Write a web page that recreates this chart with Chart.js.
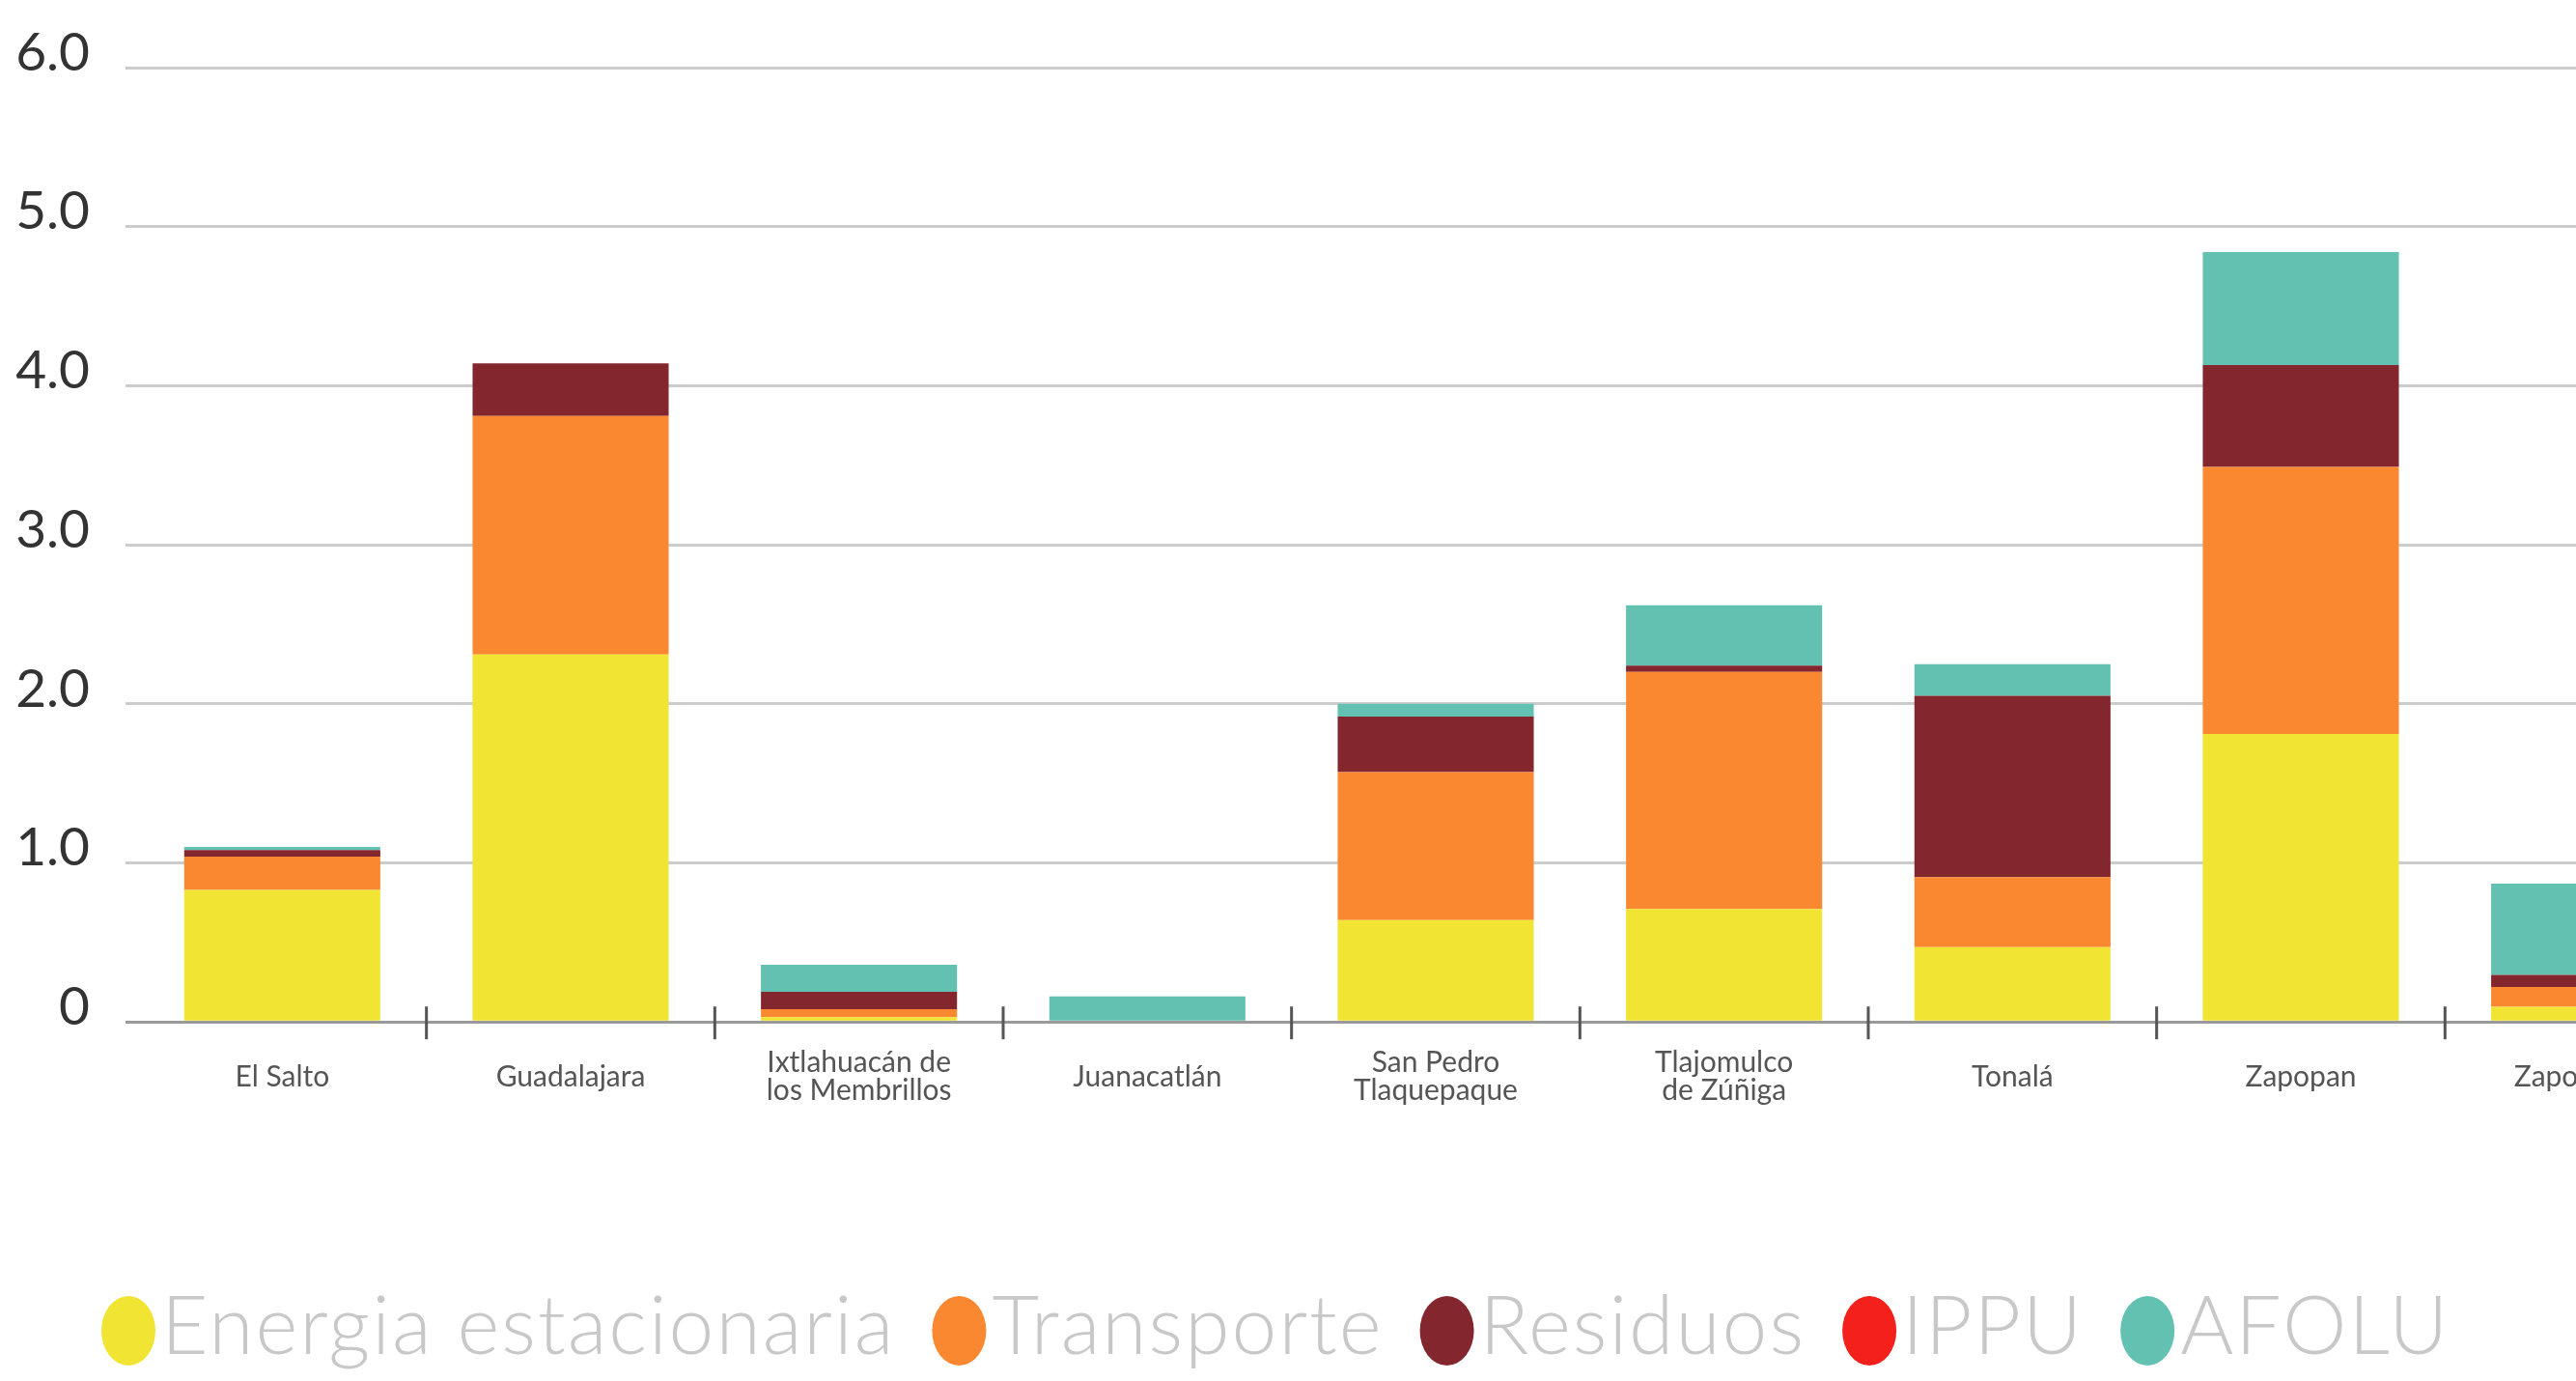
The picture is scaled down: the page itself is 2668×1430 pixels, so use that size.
<!DOCTYPE html>
<html lang="es">
<head>
<meta charset="utf-8">
<title>Emisiones por municipio</title>
<script src="https://cdn.jsdelivr.net/npm/chart.js@4.4.1/dist/chart.umd.min.js"></script>
<style>
    html, body { margin: 0; padding: 0; background: #ffffff; overflow: hidden; }
    #wrap { width: 2840px; height: 1430px; }
</style>
</head>
<body>
<div id="wrap"><canvas id="emisionesChart"></canvas></div>
<script>
const categories = [
    "El Salto",
    "Guadalajara",
    ["Ixtlahuacán de", "los Membrillos"],
    "Juanacatlán",
    ["San Pedro", "Tlaquepaque"],
    ["Tlajomulco", "de Zúñiga"],
    "Tonalá",
    "Zapopan",
    "Zapotlanejo"
];

const energia    = [0.83, 2.31, 0.03, 0,    0.64, 0.71, 0.47, 1.81, 0.095];
const transporte = [0.21, 1.50, 0.05, 0,    0.93, 1.49, 0.44, 1.68, 0.125];
const residuos   = [0.04, 0.33, 0.11, 0,    0.35, 0.04, 1.14, 0.64, 0.075];
const ippu       = [0,    0,    0,    0,    0,    0,    0,    0,    0];
const afolu      = [0.02, 0,    0.17, 0.16, 0.08, 0.38, 0.20, 0.71, 0.575];

const yTicks = [0, 1, 2, 3, 4, 5, 6];

// small marks between municipalities, crossing the zero line
const tickMarks = {
    id: "tickMarks",
    afterDatasetsDraw(chart) {
        const xScale = chart.scales.x;
        const bottom = chart.chartArea.bottom;
        const ctx = chart.ctx;
        ctx.save();
        ctx.strokeStyle = "#555555";
        ctx.lineWidth = 3;
        for (let i = 0; i < categories.length - 1; i++) {
            const px = (xScale.getPixelForTick(i) + xScale.getPixelForTick(i + 1)) / 2;
            ctx.beginPath();
            ctx.moveTo(px, bottom - 16);
            ctx.lineTo(px, bottom + 18);
            ctx.stroke();
        }
        ctx.restore();
    }
};

// legend row with oval dots, drawn under the axis labels
const dotLegend = {
    id: "dotLegend",
    afterDraw(chart) {
        const ctx = chart.ctx;
        const y = chart.height - 55;
        let x = 105;
        ctx.save();
        ctx.font = "300 84px Lato";
        ctx.letterSpacing = "2px";
        ctx.textBaseline = "middle";
        chart.data.datasets.forEach(ds => {
            ctx.fillStyle = ds.backgroundColor;
            ctx.beginPath();
            ctx.ellipse(x + 28, y + 3, 28, 36, 0, 0, Math.PI * 2);
            ctx.fill();
            x += 62;
            ctx.fillStyle = "#c8c8c8";
            ctx.fillText(ds.label, x, y);
            x += ctx.measureText(ds.label).width + 38;
        });
        ctx.restore();
    }
};

const canvas = document.getElementById("emisionesChart");

new Chart(canvas, {
    type: "bar",
    data: {
        labels: categories,
        datasets: [
            { label: "Energia estacionaria", data: energia, backgroundColor: "#f1e433" },
            { label: "Transporte", data: transporte, backgroundColor: "#f98830" },
            { label: "Residuos", data: residuos, backgroundColor: "#84262d" },
            { label: "IPPU", data: ippu, backgroundColor: "#f4201c" },
            { label: "AFOLU", data: afolu, backgroundColor: "#62c1b0" }
        ]
    },
    options: {
        responsive: true,
        maintainAspectRatio: false,
        animation: false,
        devicePixelRatio: 1,
        layout: {
            padding: { left: 13, right: 9, top: 68, bottom: 237 }
        },
        datasets: {
            bar: {
                barPercentage: 0.68,
                categoryPercentage: 1.0
            }
        },
        plugins: {
            legend: { display: false },
            tooltip: { enabled: false }
        },
        scales: {
            x: {
                stacked: true,
                grid: { display: false },
                border: { display: false },
                ticks: {
                    color: "#555555",
                    padding: 34,
                    crossAlign: "center",
                    maxRotation: 0,
                    autoSkip: false,
                    font: { family: "Lato", size: 30, lineHeight: 0.98 }
                }
            },
            y: {
                stacked: true,
                min: 0,
                max: 6,
                afterBuildTicks: function(scale) {
                    scale.ticks = yTicks.map(v => ({ value: v }));
                },
                afterFit: function(scale) {
                    scale.width = 130;
                },
                border: { display: false },
                grid: {
                    color: ctx => (ctx.tick && ctx.tick.value === 0) ? "#9a9a9a" : "#cccccc",
                    lineWidth: 3,
                    drawTicks: true,
                    tickLength: 13
                },
                ticks: {
                    color: "#333333",
                    padding: 37,
                    labelOffset: -15,
                    font: { family: "Lato", size: 55 },
                    callback: function(value) {
                        return value === 0 ? "0" : value.toFixed(1);
                    }
                }
            }
        }
    },
    plugins: [tickMarks, dotLegend]
});
</script>
</body>
</html>
